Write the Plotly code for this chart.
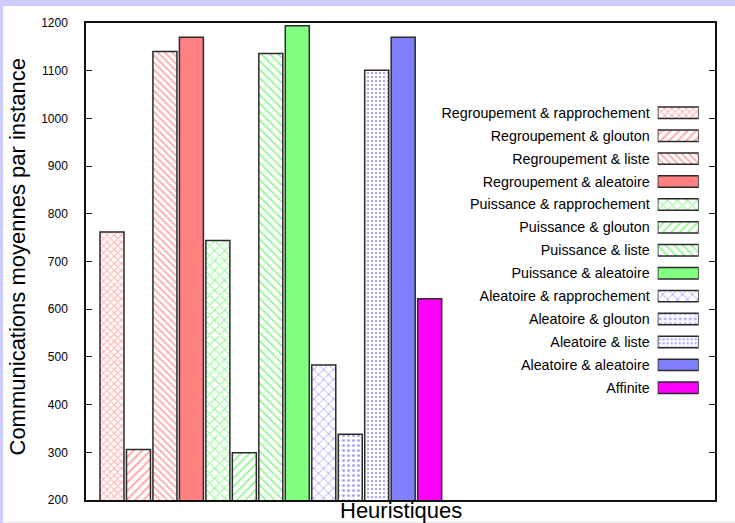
import plotly.graph_objects as go

# ---------------- data ----------------
heuristiques = [
    "Regroupement & rapprochement",
    "Regroupement & glouton",
    "Regroupement & liste",
    "Regroupement & aleatoire",
    "Puissance & rapprochement",
    "Puissance & glouton",
    "Puissance & liste",
    "Puissance & aleatoire",
    "Aleatoire & rapprochement",
    "Aleatoire & glouton",
    "Aleatoire & liste",
    "Aleatoire & aleatoire",
    "Affinite",
]
communications = [762, 306, 1140, 1170, 744, 299, 1136, 1194, 483, 338, 1101, 1170, 622]
y_ticks = [200, 300, 400, 500, 600, 700, 800, 900, 1000, 1100, 1200]
x_title = "Heuristiques"
y_title = "Communications moyennes par instance"

# ---------------- styles ----------------
RED_F, GREEN_F, BLUE_F, MAG_F = "#ff8080", "#80ff80", "#8080ff", "#ff00ff"
RED_P, GREEN_P, BLUE_P = "#ff5555", "#22ee22", "#5555ff"
# (fill colour, pattern shape, pattern colour, pattern size, solidity)
styles = [
    ("white", "x", RED_P, 5, 0.35),
    ("white", "/", RED_P, 6, 0.35),
    ("white", "\\", RED_P, 5, 0.35),
    (RED_F, "", None, 8, 0.3),
    ("white", "x", GREEN_P, 7, 0.3),
    ("white", "/", GREEN_P, 6, 0.3),
    ("white", "\\", GREEN_P, 6, 0.3),
    (GREEN_F, "", None, 8, 0.3),
    ("white", "x", BLUE_P, 7, 0.25),
    ("white", ".", BLUE_P, 5, 0.3),
    ("white", ".", BLUE_P, 4, 0.3),
    (BLUE_F, "", None, 8, 0.3),
    (MAG_F, "", None, 8, 0.3),
]
EDGE = "#2a2a2a"

def marker_for(st):
    fill, shape, fg, size, sol = st
    m = dict(color=fill, line=dict(color=EDGE, width=1.5))
    if shape:
        m["pattern"] = dict(shape=shape, fgcolor=fg, bgcolor="white",
                            size=size, solidity=sol, fillmode="overlay")
    return m

fig = go.Figure()

# main bars
for i, (name, val) in enumerate(zip(heuristiques, communications)):
    fig.add_trace(go.Bar(
        x=[i], y=[val], width=0.907, name=name,
        marker=marker_for(styles[i]), showlegend=False,
        xaxis="x", yaxis="y", hovertemplate=name + ": %{y}<extra></extra>",
    ))

# gnuplot-style key: swatches drawn on a small category axis
for i, name in enumerate(heuristiques):
    fig.add_trace(go.Bar(
        x=[1], y=[name], orientation="h", width=0.5,
        marker=marker_for(styles[i]), showlegend=False,
        xaxis="x2", yaxis="y2", hoverinfo="skip",
    ))

FONT = "Liberation Sans, Arial, sans-serif"

fig.update_layout(
    width=735, height=523,
    margin=dict(l=86, r=20, t=23, b=23, autoexpand=False),
    paper_bgcolor="#ccccff",
    plot_bgcolor="white",
    barmode="overlay",
    font=dict(family=FONT, color="#000000"),
    xaxis=dict(
        domain=[0, 1], range=[-0.982, 22.78], showticklabels=False, ticks="",
        showgrid=False, zeroline=False, showline=True, mirror=True,
        linecolor="#111111", linewidth=1.5,
    ),
    yaxis=dict(
        domain=[0, 1], range=[200, 1200], tickvals=y_ticks,
        ticks="inside", ticklen=6, tickcolor="#222222", tickwidth=1,
        mirror="allticks", showline=True, linecolor="#111111", linewidth=1.5,
        showgrid=False, zeroline=False,
        tickfont=dict(size=12, family=FONT), ticklabelstandoff=14,
    ),
    xaxis2=dict(
        domain=[0.9089, 0.9741], range=[0, 1], anchor="y2", visible=False,
        fixedrange=True,
    ),
    yaxis2=dict(
        domain=[0.2112, 0.8358], anchor="x2", type="category",
        categoryorder="array", categoryarray=heuristiques,
        range=[12.5, -0.5], showline=False, ticks="", showgrid=False,
        zeroline=False, tickfont=dict(size=14.3, family=FONT),
        ticklabelstandoff=7, fixedrange=True,
    ),
    shapes=[
        dict(type="rect", xref="paper", yref="paper", layer="below",
             x0=(3 - 86) / 629, x1=(740 - 86) / 629,
             y0=(500 - 521) / 477, y1=(500 - 6) / 477,
             fillcolor="white", line=dict(width=0)),
        dict(type="rect", xref="paper", yref="paper", layer="below",
             x0=(3 - 86) / 629, x1=(740 - 86) / 629,
             y0=(500 - 530) / 477, y1=(500 - 521) / 477,
             fillcolor="#f2f2f2", line=dict(width=0)),
    ],
    annotations=[
        dict(text=x_title, xref="paper", yref="paper", x=0.5, y=(500 - 510.5) / 477,
             xanchor="center", yanchor="middle", showarrow=False,
             font=dict(size=22, family=FONT)),
        dict(text=y_title, xref="paper", yref="paper", x=(17 - 86) / 629,
             y=(500 - 257.5) / 477, xanchor="center", yanchor="middle",
             textangle=-90, showarrow=False, font=dict(size=22, family=FONT)),
    ],
)

fig.write_html("out.html")
